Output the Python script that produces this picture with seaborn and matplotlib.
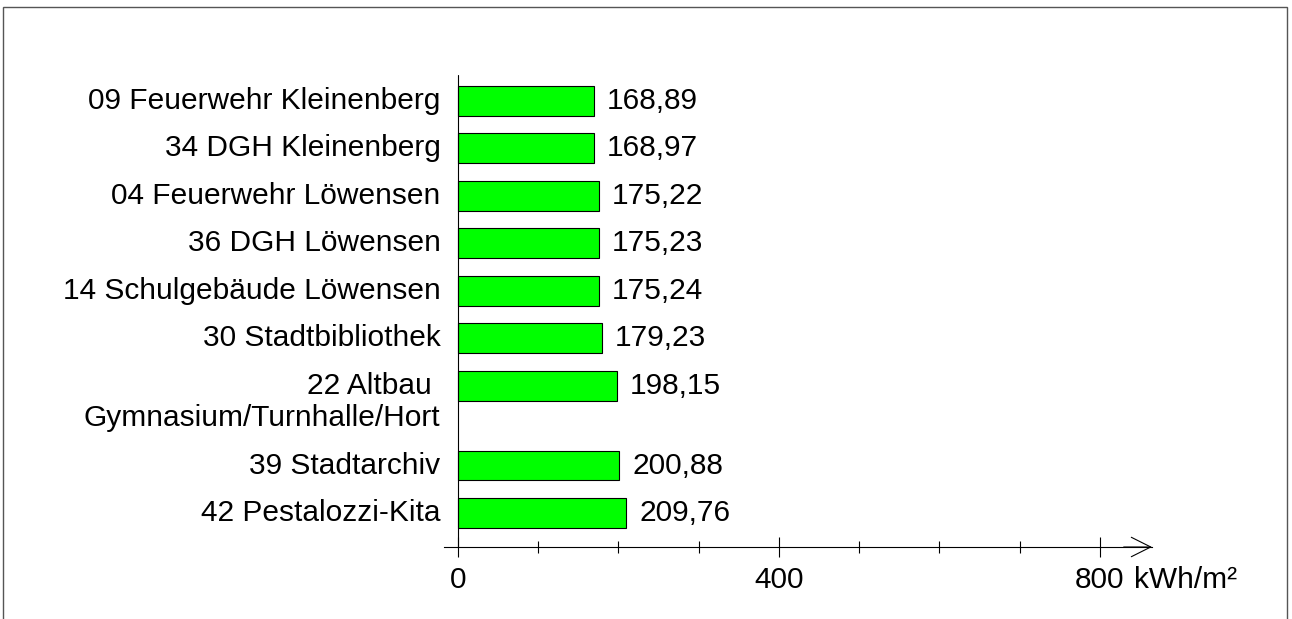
import matplotlib
matplotlib.use("Agg")
import matplotlib.pyplot as plt
from matplotlib.patches import Rectangle
from matplotlib.ticker import MultipleLocator
import pandas as pd
import seaborn as sns

# Daten (von oben nach unten)
gebaeude = [
    "09 Feuerwehr Kleinenberg",
    "34 DGH Kleinenberg",
    "04 Feuerwehr Löwensen",
    "36 DGH Löwensen",
    "14 Schulgebäude Löwensen",
    "30 Stadtbibliothek",
    "22 Altbau \nGymnasium/Turnhalle/Hort",
    "39 Stadtarchiv",
    "42 Pestalozzi-Kita",
]
kennwert = [168.89, 168.97, 175.22, 175.23, 175.24, 179.23, 198.15, 200.88, 209.76]
einheit = "kWh/m²"

sns.set_theme(style="white")
plt.rcParams["font.family"] = ["Liberation Sans", "DejaVu Sans"]
schrift = 21.5

# Zeilenpositionen: mehrzeilige Beschriftungen bekommen mehr Platz
zeilenabstand = 0.68
pos = []
y = 0.0
for name in gebaeude:
    pos.append(y)
    y += 1 + zeilenabstand * (name.count("\n"))

df = pd.DataFrame({"gebaeude": gebaeude, "wert": kennwert, "pos": pos})

fig = plt.figure(figsize=(12.92, 6.19), dpi=100)
ax = fig.add_axes([444 / 1292, 1 - 547 / 619, 708 / 1292, 472 / 619])

sns.barplot(data=df, x="wert", y="pos", orient="h", native_scale=True,
            color="#00ff00", saturation=1, edgecolor="black", linewidth=0.8,
            width=0.63, ax=ax)

ax.set_xlim(-17.5, 865)
ax.set_ylim(pos[-1] + 0.716, -0.547)

# Wertbeschriftung mit Dezimalkomma
ax.bar_label(ax.containers[0],
             labels=[f"{v:.2f}".replace(".", ",") for v in kennwert],
             padding=9.5, fontsize=schrift, color="black")

# Gebäudenamen links, erste Zeile auf Höhe des Balkens
ax.set_yticks([])
for name, p in zip(gebaeude, pos):
    for k, zeile in enumerate(name.split("\n")):
        ax.text(-22, p + k * zeilenabstand, zeile, ha="right", va="center",
                fontsize=schrift, color="black")

# Achsen
for s in ["top", "right", "left"]:
    ax.spines[s].set_visible(False)
ax.spines["bottom"].set_color("black")
ax.spines["bottom"].set_linewidth(0.8)
ax.axvline(0, color="black", lw=0.8)

ax.xaxis.set_major_locator(MultipleLocator(400))
ax.xaxis.set_minor_locator(MultipleLocator(100))
ax.tick_params(axis="x", which="major", direction="inout", length=14.4, width=0.8,
               color="black", labelcolor="black", labelsize=schrift, pad=6.5,
               bottom=True)
ax.tick_params(axis="x", which="minor", direction="inout", length=8, width=0.8,
               color="black", bottom=True)
ax.set_xticks([0, 400, 800])
ax.set_xticklabels(["0", "400", "800"])
ax.set_xlabel("")
ax.set_ylabel("")

# Pfeilspitze am Ende der x-Achse
ax.annotate("", xy=(1.0, 0), xytext=(0.96, 0), xycoords="axes fraction",
            arrowprops=dict(arrowstyle="->", lw=0.8, color="black",
                            mutation_scale=35, shrinkA=0, shrinkB=0))

# Einheit hinter der 800 (gleiche Höhe wie die Tick-Beschriftung)
ax.annotate(einheit, xy=(800, 0), xycoords=("data", "axes fraction"),
            xytext=(34, -19), textcoords="offset pixels",
            ha="left", va="top", fontsize=schrift, color="black")

# Rahmen um die Grafik
fig.patches.append(Rectangle((3 / 1292, -0.1), 1284 / 1292, 1 - 7 / 619 + 0.1,
                             transform=fig.transFigure, fill=False,
                             edgecolor="#555555", lw=1))

fig.savefig("out.png", dpi=100)
